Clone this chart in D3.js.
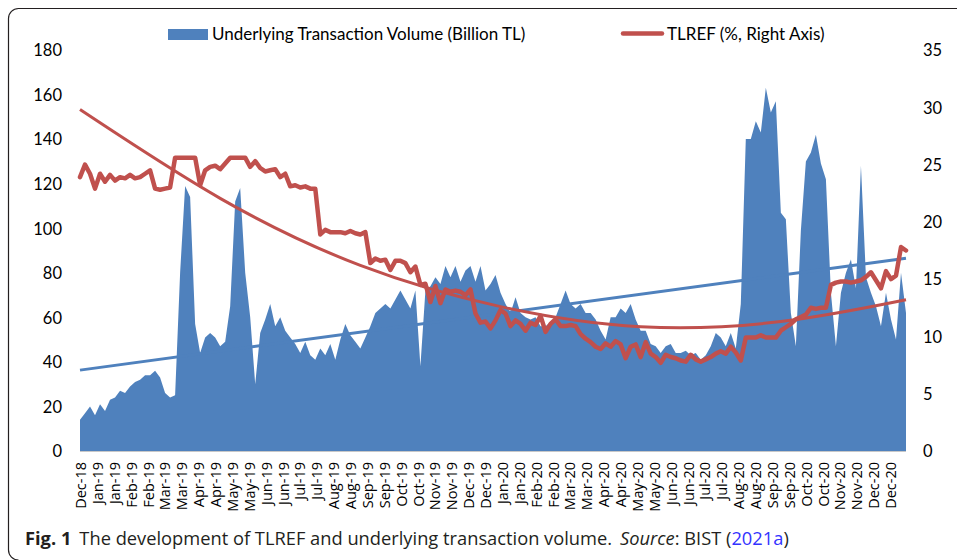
<!DOCTYPE html>
<html>
<head>
<meta charset="utf-8">
<script src="https://cdn.jsdelivr.net/npm/d3@7"></script>
<style>
  body { margin: 0; background: #fff; }
  svg { display: block; }
</style>
</head>
<body>
<div id="chart"></div>
<script>
// Underlying transaction volume (billion TL), Dec-18 .. Dec-20
let volume = [
  14, 17, 20, 16, 21, 18, 23, 24, 27, 26, 29, 31, 32, 34, 34, 36, 33, 26, 24, 25,
  80, 119, 114, 57, 44, 51, 53, 51, 47, 49, 65, 112, 118, 80, 60, 30, 53, 59, 66, 56,
  60, 54, 51, 48, 44, 49, 43, 41, 46, 43, 48, 41, 50, 57, 52, 49, 46, 51, 56, 62,
  64, 66, 64, 68, 72, 68, 64, 72, 38, 72, 74, 78, 75, 83, 78, 83, 76, 81, 83, 76,
  83, 72, 75, 79, 71, 66, 62, 69, 62, 60, 59, 60, 56, 56, 58, 60, 66, 72, 66, 64,
  66, 62, 62, 59, 54, 50, 60, 60, 64, 62, 66, 59, 54, 54, 48, 47, 44, 47, 48, 44,
  44, 45, 43, 44, 41, 43, 47, 53, 51, 47, 53, 46, 66, 140, 140, 148, 143, 163, 152, 157,
  107, 104, 62, 47, 99, 130, 134, 142, 129, 122, 71, 47, 71, 80, 86, 73, 128, 78, 71, 65,
  56, 71, 59, 50, 80, 62
];

// TLREF (%), right axis, same dates
let tlref = [
  23.9, 25.0, 24.2, 22.9, 24.2, 23.5, 24.1, 23.6, 23.9, 23.8, 24.1, 23.8, 23.9, 24.2, 24.5, 22.9, 22.8, 22.9, 23.0, 25.6,
  25.6, 25.6, 25.6, 25.6, 23.2, 24.5, 24.8, 24.9, 24.6, 25.1, 25.6, 25.6, 25.6, 25.6, 24.8, 25.3, 24.7, 24.4, 24.5, 24.6,
  23.9, 24.2, 23.1, 23.2, 23.0, 23.1, 22.9, 22.9, 18.9, 19.3, 19.1, 19.1, 19.1, 19.0, 19.2, 19.0, 18.9, 19.1, 16.4, 16.8,
  16.6, 16.7, 15.8, 16.6, 16.6, 16.4, 15.6, 16.1, 14.5, 14.6, 13.0, 14.4, 12.9, 14.1, 13.9, 14.0, 13.9, 13.6, 14.1, 12.0,
  11.2, 11.3, 10.7, 11.4, 12.3, 12.0, 10.9, 11.4, 11.1, 10.5, 11.2, 11.0, 11.8, 10.4, 11.1, 11.5, 10.9, 10.9, 11.0, 10.9,
  10.2, 9.8, 9.5, 9.1, 8.9, 9.4, 9.1, 9.6, 9.3, 8.1, 9.1, 9.3, 8.2, 9.5, 8.5, 8.2, 7.7, 8.4, 8.2, 8.1,
  7.9, 7.8, 8.4, 8.0, 7.8, 8.0, 8.2, 8.5, 8.7, 8.5, 9.1, 8.6, 7.9, 9.9, 9.9, 9.9, 10.1, 9.9, 9.9, 9.9,
  10.5, 10.8, 11.1, 11.5, 11.7, 11.9, 12.5, 12.4, 12.5, 12.5, 14.5, 14.7, 14.8, 14.8, 14.7, 14.8, 14.9, 15.2, 15.6, 14.9,
  14.2, 15.7, 15.0, 15.3, 17.8, 17.5
];

// trend lines as they appear in the picture (index in series, value)
let volumeTrendIdx = [0, 165];
let volumeTrend = [36.3, 86.5];
let tlrefTrendIdx = [0, 28, 56, 84, 112, 140, 165];
let tlrefTrend = [29.8, 22.05, 16.2, 12.6, 10.85, 11.3, 13.2];

// x axis labels
let xLabels = ["Dec-18"];
let months = ["Jan", "Feb", "Mar", "Apr", "May", "Jun", "Jul", "Aug", "Sep", "Oct", "Nov", "Dec"];
["19", "20"].forEach(function(yr) {
  months.forEach(function(m) {
    xLabels.push(m + "-" + yr);
    xLabels.push(m + "-" + yr);
  });
});

let leftTicks = [0, 20, 40, 60, 80, 100, 120, 140, 160, 180];
let rightTicks = [0, 5, 10, 15, 20, 25, 30, 35];

let width = 957,
  height = 560;

let plot = { left: 80, right: 906, top: 50, bottom: 451 };

let blue = "#4f81bd",
  red = "#c0504d";

let svg = d3
  .select("#chart")
  .append("svg")
  .attr("width", width)
  .attr("height", height);

// frame round the figure
svg
  .append("path")
  .attr("d", "M957,8.5 H18.5 A10,10 0 0 0 8.5,18.5 V550 A10,10 0 0 0 18.5,560")
  .attr("fill", "none")
  .attr("stroke", "#231f20")
  .attr("stroke-width", 1.2);

// scales
let x = d3.scaleLinear().domain([0, volume.length - 1]).range([plot.left, plot.right]);
let yLeft = d3.scaleLinear().domain([0, 180]).range([plot.bottom, plot.top]);
let yRight = d3.scaleLinear().domain([0, 35]).range([plot.bottom, plot.top]);
let xLab = d3.scalePoint().domain(d3.range(xLabels.length)).range([81, 891]);

// volume area
svg
  .append("path")
  .datum(volume)
  .attr("fill", blue)
  .attr(
    "d",
    d3
      .area()
      .x(function(d, i) {
        return x(i);
      })
      .y0(yLeft(0))
      .y1(function(d) {
        return yLeft(d);
      })
  );

// x axis line
svg
  .append("line")
  .attr("x1", plot.left)
  .attr("x2", plot.right)
  .attr("y1", plot.bottom + 0.5)
  .attr("y2", plot.bottom + 0.5)
  .attr("stroke", "#c8c8c8")
  .attr("stroke-width", 1);

// linear trend of volume
svg
  .append("path")
  .datum(volumeTrend)
  .attr("fill", "none")
  .attr("stroke", blue)
  .attr("stroke-width", 3)
  .attr(
    "d",
    d3
      .line()
      .x(function(d, i) {
        return x(volumeTrendIdx[i]);
      })
      .y(function(d) {
        return yLeft(d);
      })
  );

// TLREF line
svg
  .append("path")
  .datum(tlref)
  .attr("fill", "none")
  .attr("stroke", red)
  .attr("stroke-width", 4.5)
  .attr("stroke-linejoin", "round")
  .attr("stroke-linecap", "round")
  .attr(
    "d",
    d3
      .line()
      .x(function(d, i) {
        return x(i);
      })
      .y(function(d) {
        return yRight(d);
      })
  );

// polynomial trend of TLREF
svg
  .append("path")
  .datum(tlrefTrend)
  .attr("fill", "none")
  .attr("stroke", red)
  .attr("stroke-width", 3)
  .attr(
    "d",
    d3
      .line()
      .curve(d3.curveNatural)
      .x(function(d, i) {
        return x(tlrefTrendIdx[i]);
      })
      .y(function(d) {
        return yRight(d);
      })
  );

// left axis labels
let yAxisL = d3.axisLeft(yLeft).tickValues(leftTicks).tickSize(0).tickPadding(0);
let gL = svg
  .append("g")
  .attr("transform", "translate(62,0)")
  .call(yAxisL);
gL.select(".domain").remove();

// right axis labels
let yAxisR = d3.axisRight(yRight).tickValues(rightTicks).tickSize(0).tickPadding(0);
let gR = svg
  .append("g")
  .attr("transform", "translate(923,0)")
  .call(yAxisR);
gR.select(".domain").remove();

svg
  .selectAll(".tick text")
  .attr("font-family", "Lato, 'Open Sans', sans-serif")
  .attr("font-size", 16.5)
  .attr("fill", "#000")
  .attr("dy", "0.35em");

// x labels, rotated
svg
  .append("g")
  .selectAll("text")
  .data(xLabels)
  .enter()
  .append("text")
  .attr("transform", function(d, i) {
    return "translate(" + (xLab(i) + 5) + ",462) rotate(-90)";
  })
  .attr("text-anchor", "end")
  .attr("font-family", "'Open Sans', sans-serif")
  .attr("font-size", 14.5)
  .attr("fill", "#000")
  .text(function(d) {
    return d;
  });

// legend
svg
  .append("rect")
  .attr("x", 168)
  .attr("y", 29)
  .attr("width", 40)
  .attr("height", 11)
  .attr("fill", blue);

svg
  .append("text")
  .attr("x", 212)
  .attr("y", 40)
  .attr("font-family", "Lato, sans-serif")
  .attr("font-size", 17)
  .attr("fill", "#000")
  .text("Underlying Transaction Volume (Billion TL)");

svg
  .append("line")
  .attr("x1", 623)
  .attr("x2", 662)
  .attr("y1", 33.5)
  .attr("y2", 33.5)
  .attr("stroke", red)
  .attr("stroke-width", 4.5)
  .attr("stroke-linecap", "round");

svg
  .append("text")
  .attr("x", 667)
  .attr("y", 40)
  .attr("font-family", "Lato, sans-serif")
  .attr("font-size", 17)
  .attr("fill", "#000")
  .text("TLREF (%, Right Axis)");

// caption
let cap = svg
  .append("text")
  .attr("x", 25)
  .attr("y", 545)
  .attr("font-family", "'Open Sans', sans-serif")
  .attr("font-size", 18.3)
  .attr("fill", "#231f20");

cap.append("tspan").attr("font-weight", "bold").text("Fig. 1");
cap.append("tspan").attr("dx", 8).text("The development of TLREF and underlying transaction volume.");
cap.append("tspan").attr("dx", 8).attr("font-style", "italic").text("Source");
cap.append("tspan").text(": BIST (");
cap.append("tspan").attr("fill", "#3333ff").text("2021a");
cap.append("tspan").text(")");
</script>
</body>
</html>
